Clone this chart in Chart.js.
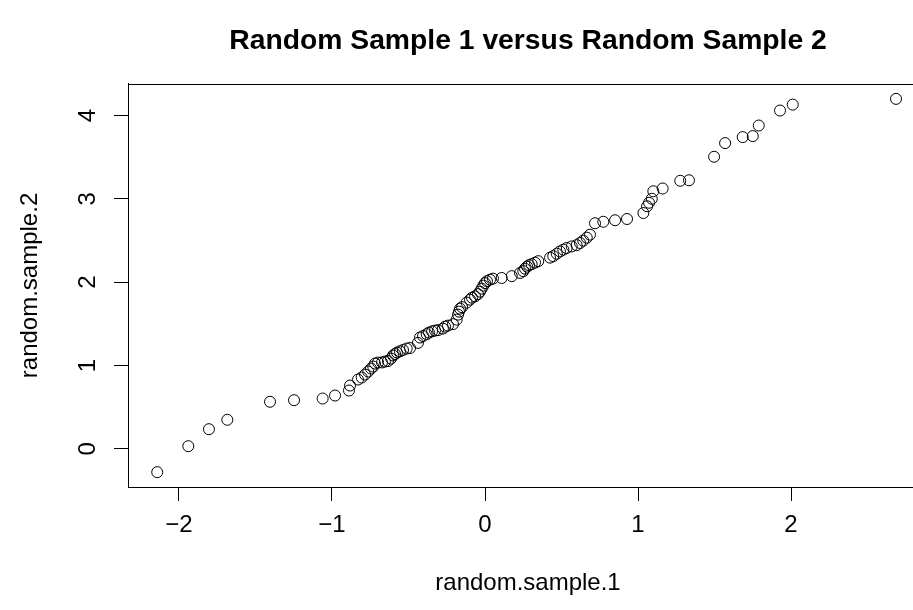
<!DOCTYPE html>
<html>
<head>
<meta charset="utf-8">
<title>Random Sample 1 versus Random Sample 2</title>
<script src="https://cdn.jsdelivr.net/npm/chart.js@4.4.1/dist/chart.umd.min.js"></script>
<style>
  html, body { margin: 0; padding: 0; background: #fff; overflow: hidden; }
  #wrap { width: 913px; height: 610px; overflow: hidden; }
  canvas { display: block; }
</style>
</head>
<body>
<div id="wrap"><canvas id="chart" width="960" height="610"></canvas></div>
<script>
// sorted samples
const sample1 = [-2.142, -1.939, -1.804, -1.684, -1.405, -1.248, -1.061, -0.980, -0.889, -0.882,
  -0.830, -0.806, -0.784, -0.763, -0.745, -0.730, -0.719, -0.699, -0.673, -0.654,
  -0.634, -0.614, -0.601, -0.588, -0.575, -0.556, -0.536, -0.512, -0.490, -0.438,
  -0.425, -0.405, -0.381, -0.366, -0.346, -0.327, -0.307, -0.275, -0.261, -0.242,
  -0.209, -0.185, -0.176, -0.170, -0.163, -0.150, -0.120, -0.098, -0.085, -0.065,
  -0.046, -0.033, -0.022, -0.011, 0.000, 0.013, 0.033, 0.052, 0.109, 0.175,
  0.229, 0.250, 0.261, 0.275, 0.288, 0.305, 0.327, 0.348, 0.425, 0.446,
  0.469, 0.490, 0.512, 0.534, 0.567, 0.599, 0.621, 0.642, 0.665, 0.686,
  0.719, 0.773, 0.850, 0.928, 1.035, 1.059, 1.072, 1.090, 1.100, 1.161,
  1.276, 1.333, 1.497, 1.569, 1.684, 1.750, 1.789, 1.928, 2.011, 2.686];

const sample2 = [-0.281, 0.031, 0.235, 0.348, 0.564, 0.583, 0.603, 0.639, 0.699, 0.759,
  0.831, 0.855, 0.891, 0.927, 0.963, 0.987, 1.023, 1.035, 1.036, 1.047,
  1.053, 1.083, 1.119, 1.137, 1.155, 1.170, 1.185, 1.203, 1.209, 1.271,
  1.335, 1.353, 1.376, 1.394, 1.410, 1.418, 1.424, 1.442, 1.466, 1.478,
  1.496, 1.550, 1.610, 1.646, 1.682, 1.700, 1.754, 1.790, 1.814, 1.830,
  1.856, 1.886, 1.922, 1.958, 1.988, 2.012, 2.030, 2.042, 2.050, 2.072,
  2.110, 2.132, 2.162, 2.186, 2.204, 2.216, 2.234, 2.252, 2.294, 2.312,
  2.342, 2.369, 2.390, 2.410, 2.429, 2.444, 2.470, 2.498, 2.534, 2.570,
  2.707, 2.725, 2.743, 2.758, 2.830, 2.911, 2.953, 3.001, 3.091, 3.124,
  3.217, 3.223, 3.505, 3.669, 3.741, 3.753, 3.880, 4.060, 4.131, 4.200];

const xTicks = [-2, -1, 0, 1, 2];
const yTicks = [0, 1, 2, 3, 4];

const family = '"Liberation Sans", Arial, Helvetica, sans-serif';
const fmt = v => (v < 0 ? '\u2212' + Math.abs(v) : String(v));

// R style box + rotated y tick labels
const rFrame = {
  id: 'rFrame',
  afterDatasetsDraw(chart) {
    const { ctx, chartArea: a } = chart;
    ctx.save();
    ctx.strokeStyle = '#000';
    ctx.lineWidth = 1;
    ctx.strokeRect(Math.round(a.left) + 0.5, Math.round(a.top) + 0.5,
      Math.round(a.right - a.left), Math.round(a.bottom - a.top));
    ctx.restore();
  },
  afterDraw(chart) {
    const { ctx } = chart;
    const ys = chart.scales.y;
    ctx.save();
    ctx.font = '24px ' + family;
    ctx.fillStyle = '#000';
    ctx.textAlign = 'center';
    ctx.textBaseline = 'middle';
    yTicks.forEach(v => {
      ctx.save();
      ctx.translate(88, ys.getPixelForValue(v));
      ctx.rotate(-Math.PI / 2);
      ctx.fillText(fmt(v), 0, 0);
      ctx.restore();
    });
    ctx.restore();
  }
};

new Chart(document.getElementById('chart'), {
  type: 'scatter',
  data: {
    datasets: [{
      data: sample1.map((x, i) => ({ x: x, y: sample2[i] })),
      pointStyle: 'circle',
      pointRadius: 5.5,
      pointBorderWidth: 1,
      pointBorderColor: '#000',
      pointBackgroundColor: 'rgba(0,0,0,0)'
    }]
  },
  options: {
    responsive: false,
    animation: false,
    devicePixelRatio: 1,
    layout: { padding: { left: 0, right: 32, top: 0, bottom: 0 } },
    plugins: {
      legend: { display: false },
      tooltip: { enabled: false },
      title: {
        display: true,
        fullSize: false,
        text: 'Random Sample 1 versus Random Sample 2',
        color: '#000',
        font: { family: family, size: 28.3, weight: 'bold' },
        padding: { top: 24.5, bottom: 25.5 }
      }
    },
    scales: {
      x: {
        type: 'linear',
        min: -2.333,
        max: 2.895,
        afterBuildTicks: s => { s.ticks = xTicks.map(v => ({ value: v })); },
        afterFit: s => { s.height = 123; },
        grid: { drawOnChartArea: false, drawTicks: true, tickLength: 14, color: '#000', lineWidth: 1 },
        border: { display: true, color: '#000', width: 1 },
        ticks: {
          color: '#000', font: { family: family, size: 24 }, padding: 10,
          maxRotation: 0, autoSkip: false, callback: fmt
        },
        title: {
          display: true, text: 'random.sample.1', color: '#000',
          font: { family: family, size: 24 }, padding: { top: 0, bottom: 12.6 }
        }
      },
      y: {
        type: 'linear',
        min: -0.459,
        max: 4.379,
        afterBuildTicks: s => { s.ticks = yTicks.map(v => ({ value: v })); },
        afterFit: s => { s.width = 128; },
        grid: { drawOnChartArea: false, drawTicks: true, tickLength: 14, color: '#000', lineWidth: 1 },
        border: { display: true, color: '#000', width: 1 },
        ticks: { display: false },
        title: {
          display: true, text: 'random.sample.2', color: '#000',
          font: { family: family, size: 24 }, padding: { top: 15.6, bottom: 0 }
        }
      }
    }
  },
  plugins: [rFrame]
});
</script>
</body>
</html>
